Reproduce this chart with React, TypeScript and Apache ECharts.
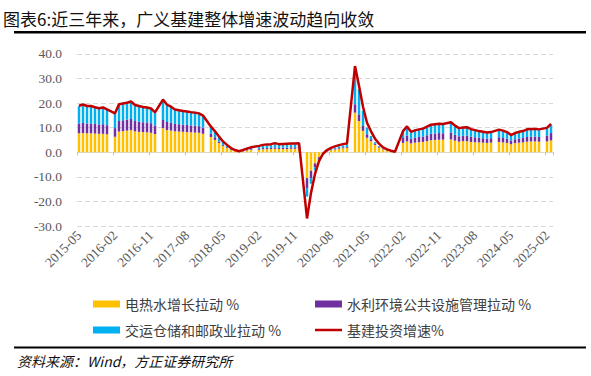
import React, { useEffect, useRef } from "react";
import * as echarts from "echarts";

// Monthly categories 2015-05 .. 2025-03 (January has no separate release)
const START_YEAR = 2015;
const START_MONTH = 5;
const MONTH_COUNT = 119;
const categories: string[] = [];
for (let i = 0; i < MONTH_COUNT; i++) {
  const m = START_MONTH - 1 + i;
  const y = START_YEAR + Math.floor(m / 12);
  const mm = (m % 12) + 1;
  categories.push(`${y}-${mm < 10 ? "0" + mm : mm}`);
}

const yTicks = [-30, -20, -10, 0, 10, 20, 30, 40];

const seriesNames = [
  "电热水增长拉动 %",
  "水利环境公共设施管理拉动 %",
  "交运仓储和邮政业拉动 %",
  "基建投资增速%",
];

// 基建投资增速 (%)
const infraGrowth: (number | null)[] = [
  18.9, 19.4, 18.8, 18.8, 18.3, 17.9, 18.2, 17.4,
  null, 15.8, 19.5, 19.8, 20.1, 20.6, 19.2, 18.8, 18.4, 18.2, 17.8, 16.2,
  null, 21.4, 19.3, 18.5, 17.4, 17.1, 16.8, 16.6, 16.3, 16.1, 15.8, 14.9,
  null, 10.4, 8.5, 6.4, 4.4, 3.0, 1.7, 0.9, 0.4, 0.9, 1.5, 2.0,
  null, 2.6, 3.0, 3.2, 3.3, 3.7, 3.3, 3.4, 3.5, 3.6, 3.6, 3.7,
  null, -26.9, -16.5, -8.8, -3.6, -0.6, 0.9, 1.8, 2.4, 2.9, 3.3, 3.6,
  null, 35.0, 27.0, 18.5, 12.0, 8.5, 5.5, 3.5, 2.0, 1.2, 0.6, 0.2,
  null, 8.6, 10.5, 8.3, 8.9, 9.3, 9.6, 10.4, 11.2, 11.4, 11.6, 11.5,
  null, 12.2, 10.8, 9.8, 10.1, 10.2, 9.4, 9.0, 8.6, 8.3, 8.0, 8.2,
  null, 9.2, 8.8, 8.2, 7.0, 7.8, 8.3, 8.6, 9.3, 9.4, 9.5, 9.3,
  null, 9.9, 11.5,
];

// 电热水增长拉动 (pct)
const utilityPull: (number | null)[] = [
  7.7, 7.8, 7.7, 7.7, 7.6, 7.5, 7.5, 7.3,
  null, 6.3, 8.4, 8.6, 8.8, 9.0, 8.5, 8.3, 8.2, 8.1, 7.9, 7.4,
  null, 9.8, 9.0, 8.8, 8.5, 8.4, 8.3, 8.2, 8.1, 8.0, 7.9, 7.5,
  null, 6.2, 5.0, 3.8, 2.6, 1.7, 0.9, 0.5, 0.2, 0.4, 0.7, 0.9,
  null, 1.0, 1.2, 1.2, 1.3, 1.4, 1.3, 1.3, 1.3, 1.4, 1.4, 1.4,
  null, -10.5, -7.5, -4.5, -2.0, -0.5, 0.4, 0.8, 1.1, 1.4, 1.6, 1.8,
  null, 16.1, 12.7, 8.7, 5.9, 4.5, 3.0, 1.9, 1.2, 0.6, 0.3, 0.1,
  null, 3.8, 4.4, 3.6, 3.9, 4.1, 4.2, 4.5, 4.9, 5.0, 5.1, 5.1,
  null, 5.2, 4.7, 4.3, 4.5, 4.5, 4.2, 4.1, 4.0, 3.9, 3.8, 3.9,
  null, 4.2, 4.0, 3.8, 3.3, 3.7, 3.9, 4.0, 4.3, 4.4, 4.4, 4.3,
  null, 4.4, 4.8,
];

// 水利环境公共设施管理拉动 (pct)
const waterEnvPull: (number | null)[] = [
  4.0, 4.1, 4.0, 4.0, 3.9, 3.8, 3.9, 3.7,
  null, 3.5, 4.3, 4.4, 4.4, 4.5, 4.2, 4.1, 4.0, 4.0, 3.9, 3.5,
  null, 3.3, 3.3, 3.2, 3.0, 3.0, 2.9, 2.9, 2.8, 2.8, 2.7, 2.5,
  null, 1.4, 1.1, 0.6, 0.4, 0.3, 0.2, 0.1, 0.0, 0.1, 0.2, 0.3,
  null, 0.4, 0.5, 0.5, 0.5, 0.6, 0.5, 0.5, 0.6, 0.6, 0.6, 0.6,
  null, -4.0, -3.0, -1.6, -0.7, -0.2, 0.1, 0.2, 0.3, 0.3, 0.4, 0.4,
  null, 3.4, 2.7, 2.0, 1.4, 0.8, 0.5, 0.3, 0.1, 0.1, 0.0, 0.0,
  null, 2.0, 2.4, 1.9, 2.0, 2.1, 2.2, 2.4, 2.6, 2.6, 2.7, 2.6,
  null, 2.8, 2.4, 2.2, 2.2, 2.3, 2.1, 2.0, 1.9, 1.8, 1.7, 1.8,
  null, 1.9, 1.8, 1.7, 1.5, 1.6, 1.7, 1.8, 1.9, 1.9, 2.0, 1.9,
  null, 2.3, 3.0,
];

// 交运仓储和邮政业拉动 (pct)
const transportPull: (number | null)[] = [
  7.0, 7.2, 6.9, 6.9, 6.6, 6.4, 6.6, 6.2,
  null, 5.8, 6.5, 6.6, 6.7, 6.9, 6.3, 6.2, 6.0, 5.9, 5.8, 5.1,
  null, 8.0, 6.8, 6.3, 5.7, 5.5, 5.4, 5.3, 5.2, 5.1, 5.0, 4.7,
  null, 2.5, 2.2, 1.7, 1.2, 0.8, 0.4, 0.2, 0.1, 0.3, 0.4, 0.6,
  null, 0.9, 1.0, 1.1, 1.1, 1.3, 1.1, 1.2, 1.2, 1.2, 1.2, 1.3,
  null, -3.5, -2.3, -1.3, -0.5, -0.1, 0.2, 0.4, 0.5, 0.7, 0.8, 1.0,
  null, 13.5, 10.2, 6.1, 2.7, 1.3, 0.6, 0.3, 0.2, 0.1, 0.0, 0.0,
  null, 2.5, 3.3, 2.5, 2.7, 2.8, 2.9, 3.2, 3.4, 3.5, 3.5, 3.5,
  null, 3.9, 3.4, 3.0, 3.1, 3.1, 2.8, 2.7, 2.5, 2.4, 2.3, 2.3,
  null, 2.8, 2.7, 2.4, 2.0, 2.3, 2.4, 2.5, 2.8, 2.8, 2.8, 2.8,
  null, 2.9, 3.4,
];

const COLORS = ["#FFC000", "#7030A0", "#00B0F0", "#C00000"];
const SERIF = '"Liberation Serif", "DejaVu Serif", serif';
const CJK = '"Noto Sans CJK SC", "Noto Sans", sans-serif';

export default function App() {
  const ref = useRef<HTMLDivElement>(null);

  useEffect(() => {
    if (!ref.current) return;
    const chart = echarts.init(ref.current, null, { renderer: "svg" });
    const legendText = { color: "#404040", fontFamily: CJK, fontSize: 14 };
    const option: any = {
      animation: false,
      backgroundColor: "#ffffff",
      grid: { left: 77, right: 38, top: 53.8, bottom: 149.9, containLabel: false },
      xAxis: [
        {
          type: "category",
          data: categories,
          position: "bottom",
          boundaryGap: true,
          axisLine: { show: false, onZero: false },
          axisTick: { show: false },
          splitLine: { show: false },
          axisLabel: {
            interval: 8,
            rotate: 45,
            color: "#595959",
            fontFamily: SERIF,
            fontSize: 13.5,
            margin: 7,
          },
        },
        {
          type: "category",
          data: categories,
          position: "top",
          boundaryGap: true,
          axisLine: { show: true, onZero: true, lineStyle: { color: "#D9D9D9", width: 1 } },
          axisTick: { show: true, inside: true, interval: 8, length: 3, lineStyle: { color: "#BFBFBF" } },
          axisLabel: { show: false },
          splitLine: { show: false },
        },
      ],
      yAxis: {
        type: "value",
        min: yTicks[0],
        max: yTicks[yTicks.length - 1],
        interval: 10,
        axisLine: { show: false },
        axisTick: { show: false },
        axisLabel: {
          formatter: (v: number) => v.toFixed(1),
          color: "#595959",
          fontFamily: SERIF,
          fontSize: 13.5,
          margin: 15,
        },
        splitLine: { lineStyle: { color: "#D9D9D9", type: [5, 3], width: 1 } },
      },
      legend: [
        { data: [seriesNames[0]], left: 88, top: 292, icon: "rect", itemWidth: 27, itemHeight: 7, textStyle: legendText },
        { data: [seriesNames[1]], left: 310, top: 292, icon: "rect", itemWidth: 27, itemHeight: 7, textStyle: legendText },
        { data: [seriesNames[2]], left: 88, top: 318, icon: "rect", itemWidth: 27, itemHeight: 7, textStyle: legendText },
        { data: [seriesNames[3]], left: 310, top: 318, icon: "rect", itemWidth: 27, itemHeight: 2.5, textStyle: legendText },
      ],
      graphic: [
        {
          type: "text",
          x: 3,
          y: 18,
          style: {
            text: "图表6:近三年来，广义基建整体增速波动趋向收敛",
            font: `17px ${CJK}`,
            fill: "#111",
            textVerticalAlign: "middle",
          },
        },
        { type: "rect", shape: { x: 14, y: 31, width: 572, height: 2.5 }, style: { fill: "#000" } },
        { type: "rect", shape: { x: 14, y: 346.5, width: 572, height: 2 }, style: { fill: "#000" } },
        {
          type: "text",
          x: 17,
          y: 361,
          style: {
            text: "资料来源：Wind，方正证券研究所",
            font: `italic 14px ${CJK}`,
            fill: "#111",
            textVerticalAlign: "middle",
          },
        },
      ],
      series: [
        { name: seriesNames[0], type: "bar", stack: "total", barWidth: "62%", data: utilityPull, itemStyle: { color: COLORS[0] } },
        { name: seriesNames[1], type: "bar", stack: "total", barWidth: "62%", data: waterEnvPull, itemStyle: { color: COLORS[1] } },
        { name: seriesNames[2], type: "bar", stack: "total", barWidth: "62%", data: transportPull, itemStyle: { color: COLORS[2] } },
        {
          name: seriesNames[3],
          type: "line",
          data: infraGrowth,
          connectNulls: true,
          symbol: "none",
          z: 10,
          lineStyle: { color: COLORS[3], width: 2.5 },
          itemStyle: { color: COLORS[3] },
        },
      ],
    };
    chart.setOption(option);
    return () => chart.dispose();
  }, []);

  return (
    <div
      ref={ref}
      style={{ position: "fixed", left: 0, top: 0, width: 591, height: 376, background: "#fff" }}
    />
  );
}
